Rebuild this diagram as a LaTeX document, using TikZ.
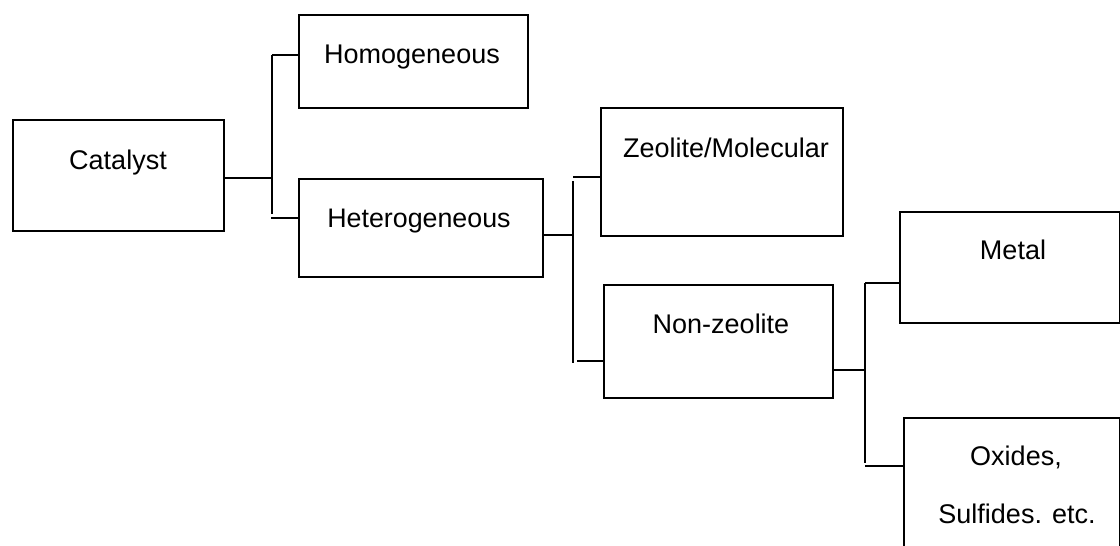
\documentclass[tikz,border=0pt]{standalone}
\usepackage{fontspec}
\setmainfont{Liberation Sans}
\begin{document}
\begin{tikzpicture}[x=1pt,y=-1pt,
  box/.style={draw=black,line width=1.6pt,inner sep=0pt,anchor=north west},
  txt/.style={anchor=base,inner sep=0pt,font=\fontsize{27}{32}\selectfont},
  conn/.style={draw=black,line width=1.5pt}]
\clip (0,0) rectangle (1120,546);
\fill[white] (0,0) rectangle (1120,546);
% boxes
\node[box,minimum width=211pt,minimum height=111pt] (cat) at (12,119) {};
\node[box,minimum width=229pt,minimum height=93pt] (hom) at (298,14) {};
\node[box,minimum width=244pt,minimum height=98pt] (het) at (298,178) {};
\node[box,minimum width=242pt,minimum height=128pt] (zeo) at (600,107) {};
\node[box,minimum width=229pt,minimum height=113pt] (non) at (603,284) {};
\node[box,minimum width=219.5pt,minimum height=111pt] (met) at (899,211) {};
\node[box,minimum width=215.5pt,minimum height=160pt] (oxi) at (903,417) {};
% texts
\node[txt] (catT) at (118,169) {Catalyst};
\node[txt] (homT) at (412,63) {Homogeneous};
\node[txt,font=\fontsize{26.8}{31}\selectfont] (hetT) at (419,227) {Heterogeneous};
\node[txt] (zeoT) at (726,157) {Zeolite/Molecular};
\node[txt] (nonT) at (721,333) {Non-zeolite};
\node[txt] (metT) at (1013,259) {Metal};
\node[txt] (oxiT) at (1016,465) {Oxides,};
\node[txt] (sulT) at (1017,523) {Sulfides. etc.};
% junction coordinates
\coordinate (j1) at (272,178);
\coordinate (j1t) at (272,55);
\coordinate (j1b) at (272,214);
\coordinate (j1h) at (271,218);
\coordinate (j2) at (573,235);
\coordinate (j2t) at (573,181);
\coordinate (j2u) at (573,177);
\coordinate (j2b) at (573,363);
\coordinate (j2h) at (577,361);
\coordinate (j3) at (865,370);
\coordinate (j3t) at (865,283);
\coordinate (j3b) at (865,463);
\coordinate (j3h) at (865,466);
% connectors
\draw[conn] (cat.east |- j1) -- (j1);
\draw[conn] (j1t) -- (j1b);
\draw[conn] (j1t) -- (hom.west |- j1t);
\draw[conn] (j1h) -- (het.west |- j1h);
\draw[conn] (het.east |- j2) -- (j2);
\draw[conn] (j2t) -- (j2b);
\draw[conn] (j2u) -- (zeo.west |- j2u);
\draw[conn] (j2h) -- (non.west |- j2h);
\draw[conn] (non.east |- j3) -- (j3);
\draw[conn] (j3t) -- (j3b);
\draw[conn] (j3t) -- (met.west |- j3t);
\draw[conn] (j3h) -- (oxi.west |- j3h);
\end{tikzpicture}
\end{document}
